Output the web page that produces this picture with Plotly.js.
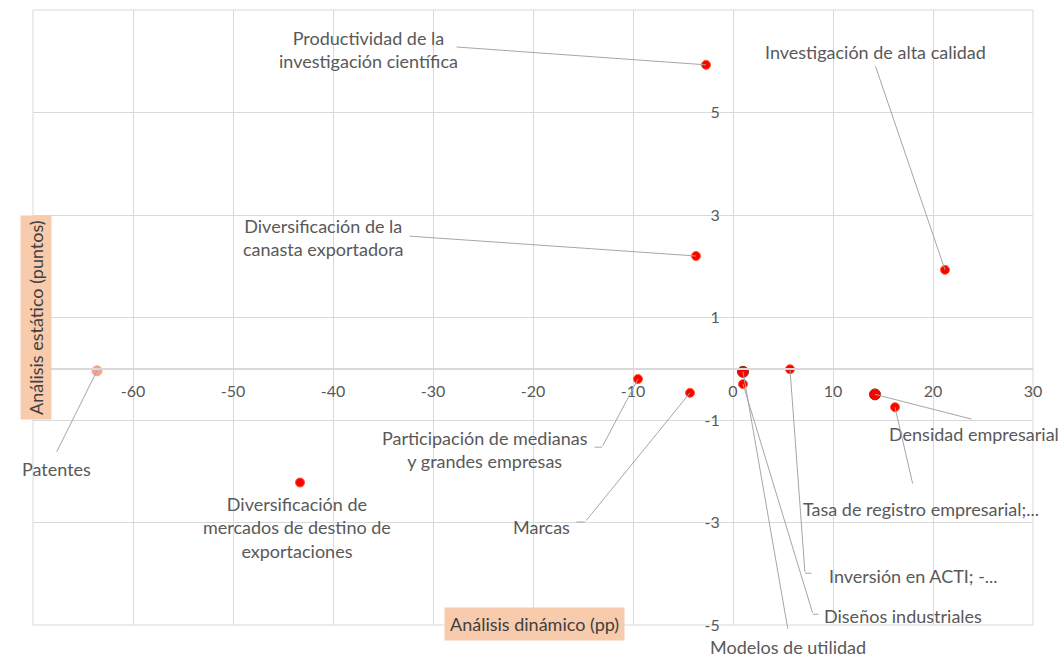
<!DOCTYPE html>
<html><head><meta charset="utf-8">
<script src="https://cdn.plot.ly/plotly-3.0.1.min.js"></script>
<style>html,body{margin:0;padding:0;background:#fff;}#chart{width:1064px;height:662px;}</style>
</head><body><div id="chart"></div>
<script>
// ---- data ----
const indicators = [
  "Productividad de la<br>investigación científica",
  "Investigación de alta calidad",
  "Diversificación de la<br>canasta exportadora",
  "Patentes",
  "Diversificación de<br>mercados de destino de<br>exportaciones",
  "Participación de medianas<br>y grandes empresas",
  "Marcas",
  "Densidad empresarial",
  "Tasa de registro empresarial;...",
  "Inversión en ACTI; -...",
  "Diseños industriales",
  "Modelos de utilidad"
];
const dinamico = [-2.7, 21.2, -3.7, -63.6, -43.3, -9.5, -4.3, 14.2, 16.2, 5.7, 1.0, 1.0];
const estatico = [5.93, 1.93, 2.2, -0.04, -2.22, -0.2, -0.47, -0.5, -0.75, -0.01, -0.3, -0.06];
const xTickVals = [-70, -60, -50, -40, -30, -20, -10, 0, 10, 20, 30];
const yTickVals = [-5, -3, -1, 1, 3, 5, 7];

// ---- layout helpers (label positions, leader tails, elbows) ----
const labelPos = [
  [-36.5, 6.22], [14.2, 6.18], [-41, 2.57], [-67.7, -1.96], [-43.6, -3.09],
  [-24.8, -1.57], [-19.2, -3.09], [24.1, -1.27], [18.8, -2.74], [18.0, -4.04],
  [17.0, -4.83], [5.5, -5.0]
];
const labelShift = [0, 0, 0, 0, 0, 0, 0, 0, 0, 0, 0, -22];
const leaderTail = [
  [-27.8, 6.28], [14.2, 5.93], [-32.5, 2.59], [-67.7, -1.65], null,
  [-13.1, -1.53], [-14.8, -2.99], [24.0, -0.99], [18.0, -2.27], [7.2, -3.99],
  [8.0, -4.79], [5.5, -5.1]
];
const elbows = [
  null, null, null, null, null,
  [-14.0, -1.53], [-15.8, -2.99], null, null, [8.0, -3.99],
  [8.7, -4.79], null
];

const markerColors = dinamico.map((v, i) => i === 3 ? '#f2a48e' : '#ff0000');
const markerLines = dinamico.map((v, i) => (i === 11 || i === 7) ? '#8b2a10' : (i === 3 ? '#f2a48e' : '#ff5a2a'));
const markerSizes = dinamico.map((v, i) => (i === 11 || i === 7) ? 11 : (i === 3 ? 10 : 9));

const trace = {
  type: 'scatter', mode: 'markers',
  x: dinamico, y: estatico, text: indicators.map(s => s.replace(/<br>/g, ' ')),
  hoverinfo: 'text+x+y',
  marker: {color: markerColors, size: markerSizes, opacity: 1, line: {color: markerLines, width: 1}},
  cliponaxis: false
};

const font = 'Lato, "Open Sans", sans-serif';
const annotations = [];
const lineColor = '#a6a6a6';
indicators.forEach((t, i) => {
  if (leaderTail[i]) {
    annotations.push({x: dinamico[i], y: estatico[i], xref: 'x', yref: 'y',
      ax: leaderTail[i][0], ay: leaderTail[i][1], axref: 'x', ayref: 'y',
      text: '', showarrow: true, arrowhead: 0, arrowwidth: 1, arrowcolor: lineColor, standoff: 0});
  }
  if (elbows[i]) {
    annotations.push({x: leaderTail[i][0], y: leaderTail[i][1], xref: 'x', yref: 'y',
      ax: elbows[i][0], ay: elbows[i][1], axref: 'x', ayref: 'y',
      text: '', showarrow: true, arrowhead: 0, arrowwidth: 1, arrowcolor: lineColor, standoff: 0});
  }
  annotations.push({x: labelPos[i][0], y: labelPos[i][1], xref: 'x', yref: 'y',
    yshift: labelShift[i],
    text: t, showarrow: false, align: 'center',
    font: {family: font, size: 18, color: '#595959'}});
});
// axis titles with filled boxes
annotations.push({xref: 'paper', yref: 'paper', x: 0.501, y: -0.026,
  text: 'Análisis dinámico (pp)', showarrow: false, bgcolor: '#f8cbad', borderpad: 5,
  font: {family: font, size: 18, color: '#404040'}});
annotations.push({xref: 'paper', yref: 'paper', x: -0.0135, y: 0.50,
  text: 'Análisis estático (puntos)', showarrow: false, textangle: -90, bgcolor: '#f8cbad', borderpad: 4,
  font: {family: font, size: 18, color: '#404040'}});

const layout = {
  width: 1064, height: 662,
  margin: {l: 33, r: 31, t: 10, b: 37},
  paper_bgcolor: '#ffffff', plot_bgcolor: '#ffffff',
  showlegend: false,
  xaxis: {
    range: [-70, 30], tickmode: 'array', tickvals: xTickVals,
    ticktext: xTickVals.map(String),
    showgrid: true, gridcolor: '#d9d9d9', gridwidth: 1,
    zeroline: false, showline: true, linecolor: '#d9d9d9', linewidth: 2,
    anchor: 'free', position: 5 / 12, ticks: '', ticklabelstandoff: 8,
    tickfont: {family: font, size: 16, color: '#595959'}, fixedrange: true
  },
  yaxis: {
    range: [-5, 7], tickmode: 'array', tickvals: yTickVals,
    ticktext: yTickVals.map(String),
    showgrid: true, gridcolor: '#d9d9d9', gridwidth: 1,
    zeroline: false, showline: true, linecolor: '#d9d9d9', linewidth: 1,
    anchor: 'free', position: 0.7, ticks: '', ticklabelstandoff: 10,
    tickfont: {family: font, size: 16, color: '#595959'}, fixedrange: true
  },
  annotations: annotations,
  shapes: [{type: 'rect', xref: 'paper', yref: 'paper', x0: 0, x1: 1, y0: 0, y1: 1,
    line: {color: '#d9d9d9', width: 1}, layer: 'below'}]
};

Plotly.newPlot('chart', [trace], layout, {displayModeBar: false, staticPlot: true});
</script></body></html>
